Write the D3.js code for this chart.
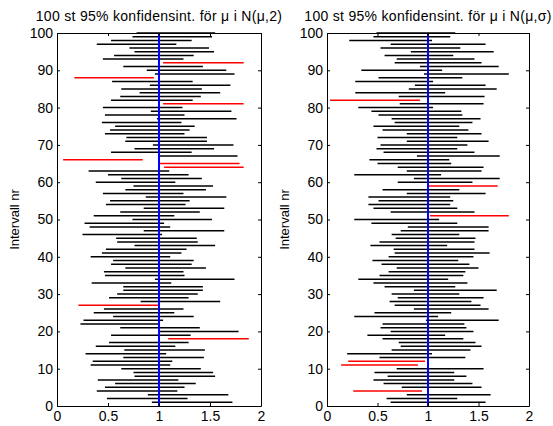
<!DOCTYPE html>
<html lang="en">
<head>
<meta charset="utf-8">
<script src="https://cdnjs.cloudflare.com/ajax/libs/d3/7.8.5/d3.min.js"></script>
<style>
  body { margin: 0; background: #fff; }
  svg text { font-family: "Liberation Sans", Arial, sans-serif; }
</style>
</head>
<body>
<svg id="canvas" width="553" height="426"></svg>
<script>
// interval number 1..100 (index 0 = interval 1)
// left panel: known sigma = 2, constant width
const leftLower = [0.93,0.49,0.89,0.39,0.47,0.57,0.40,0.76,0.75,0.63,
                   0.33,0.35,0.65,0.28,0.66,0.38,0.51,1.09,0.53,0.99,
                   0.62,0.23,0.26,0.55,0.36,0.46,0.21,0.82,0.51,0.59,
                   0.65,0.65,0.34,0.96,0.47,0.46,0.67,0.53,0.55,0.33,
                   0.44,0.48,0.76,0.59,0.58,0.25,0.85,0.32,0.27,0.74,
                   0.36,0.62,0.85,0.48,0.52,0.87,0.45,0.67,0.75,0.38,
                   0.63,0.50,0.31,1.05,1.01,0.06,0.99,0.53,0.76,0.94,
                   0.67,0.68,0.47,0.52,0.57,0.44,0.98,0.47,0.92,0.45,
                   1.04,0.53,0.62,0.81,0.63,0.91,0.54,0.17,0.96,0.88,
                   0.65,1.04,0.45,0.56,0.76,0.71,0.39,0.53,0.74,0.78];
const leftUpper = [1.72,1.28,1.68,1.18,1.25,1.36,1.19,1.55,1.53,1.41,
                   1.11,1.13,1.44,1.07,1.45,1.16,1.29,1.88,1.31,1.78,
                   1.40,1.01,1.04,1.34,1.15,1.24,0.99,1.60,1.29,1.38,
                   1.43,1.43,1.12,1.74,1.25,1.24,1.46,1.32,1.34,1.11,
                   1.22,1.27,1.55,1.38,1.37,1.03,1.64,1.11,1.05,1.52,
                   1.15,1.40,1.64,1.26,1.30,1.66,1.24,1.46,1.53,1.16,
                   1.42,1.29,1.10,1.83,1.79,0.84,1.77,1.32,1.54,1.73,
                   1.47,1.47,1.25,1.30,1.35,1.22,1.76,1.25,1.71,1.23,
                   1.83,1.33,1.41,1.60,1.42,1.70,1.33,0.95,1.74,1.66,
                   1.43,1.83,1.24,1.34,1.54,1.49,1.17,1.32,1.52,1.55];
// right panel: unknown sigma, varying width
const rightLower = [0.63,0.59,0.79,0.26,0.74,0.56,0.46,0.60,0.47,0.69,
                    0.14,0.21,0.52,0.20,0.64,0.73,0.71,0.55,0.40,0.63,
                    0.53,0.55,0.98,0.27,0.47,0.86,0.67,0.62,0.70,0.64,
                    0.86,0.57,0.46,0.31,0.52,0.61,0.69,0.54,0.45,0.61,
                    0.67,0.66,0.43,0.52,0.68,0.64,0.73,0.80,0.44,0.27,
                    1.02,0.63,0.46,0.41,0.51,0.41,0.79,0.55,1.01,0.70,
                    0.86,0.27,0.79,0.70,0.50,0.42,0.89,0.56,0.49,0.53,
                    0.79,0.50,0.79,0.55,0.46,0.67,0.64,0.51,0.44,0.31,
                    0.72,0.03,0.71,0.28,0.81,0.87,0.28,0.51,0.96,0.34,
                    0.92,0.67,0.69,0.57,0.83,0.53,0.63,0.22,0.46,0.49];
const rightUpper = [1.57,1.29,1.62,0.94,1.53,1.44,1.26,1.38,1.26,1.55,
                    0.90,0.97,1.37,1.04,1.42,1.53,1.47,1.35,1.17,1.45,
                    1.38,1.36,1.70,1.10,1.23,1.60,1.52,1.43,1.55,1.31,
                    1.68,1.27,1.39,1.20,1.35,1.37,1.50,1.41,1.30,1.45,
                    1.61,1.46,1.19,1.46,1.47,1.31,1.60,1.60,1.29,1.11,
                    1.80,1.46,1.29,1.22,1.25,1.22,1.57,1.31,1.69,1.44,
                    1.71,1.13,1.53,1.55,1.23,1.21,1.71,1.46,1.29,1.39,
                    1.60,1.29,1.53,1.40,1.31,1.44,1.52,1.34,1.33,1.05,
                    1.55,0.92,1.56,1.17,1.68,1.57,1.05,1.34,1.80,1.14,
                    1.70,1.53,1.46,1.25,1.65,1.32,1.57,1.04,1.22,1.27];
const trueMu = 1;
const xTicks = [0, 0.5, 1, 1.5, 2];
const yTicks = [0, 10, 20, 30, 40, 50, 60, 70, 80, 90, 100];
const titles = ["100 st 95% konfidensint. för \u03bc i N(\u03bc,2)",
                "100 st 95% konfidensint. för \u03bc i N(\u03bc,\u03c3)"];
const yLabel = "Intervall nr";

const svg = d3.select("#canvas");
const panels = [
  {left: 57, right: 261, lower: leftLower, upper: leftUpper, title: titles[0]},
  {left: 327, right: 529, lower: rightLower, upper: rightUpper, title: titles[1]}
];
const plotTop = 33, plotBottom = 406;

panels.forEach(function(p) {
  const x = d3.scaleLinear().domain([0, 2]).range([p.left, p.right]);
  const y = d3.scaleLinear().domain([0, 100]).range([plotBottom, plotTop]);
  const g = svg.append("g");

  const rows = p.lower.map(function(lo, i) {
    return {n: i + 1, lo: lo, hi: p.upper[i]};
  });

  g.selectAll("line.ci")
    .data(rows)
    .join("line")
    .attr("class", "ci")
    .attr("x1", d => x(d.lo))
    .attr("x2", d => x(d.hi))
    .attr("y1", d => y(d.n))
    .attr("y2", d => y(d.n))
    .attr("stroke", d => (d.lo > trueMu || d.hi < trueMu) ? "#ff0000" : "#000")
    .attr("stroke-width", 1.5);

  // true mean
  g.append("line")
    .attr("x1", x(trueMu)).attr("x2", x(trueMu))
    .attr("y1", y(0)).attr("y2", y(100))
    .attr("stroke", "#0000ff").attr("stroke-width", 2);

  // box + inward ticks (matlab style)
  const fmt = d => d3.format("")(d);
  g.append("g").attr("transform", "translate(0," + plotBottom + ")")
    .call(d3.axisBottom(x).tickValues(xTicks).tickFormat(fmt).tickSizeInner(-3).tickSizeOuter(0).tickPadding(5));
  g.append("g").attr("transform", "translate(0," + plotTop + ")")
    .call(d3.axisTop(x).tickValues(xTicks).tickFormat("").tickSizeInner(-3).tickSizeOuter(0));
  g.append("g").attr("transform", "translate(" + p.left + ",0)")
    .call(d3.axisLeft(y).tickValues(yTicks).tickSizeInner(-3).tickSizeOuter(0).tickPadding(4));
  g.append("g").attr("transform", "translate(" + p.right + ",0)")
    .call(d3.axisRight(y).tickValues(yTicks).tickFormat("").tickSizeInner(-3).tickSizeOuter(0));

  g.selectAll(".domain").attr("stroke", "#000");
  g.selectAll(".tick line").attr("stroke", "#000");
  g.selectAll(".tick text").attr("fill", "#000").style("font-size", "14px");

  g.append("text")
    .attr("x", (p.left + p.right) / 2).attr("y", 21)
    .attr("text-anchor", "middle")
    .style("font-size", "14px")
    .style("letter-spacing", "0.3px")
    .text(p.title);

  g.append("text")
    .attr("transform", "translate(" + (p.left - 38) + "," + ((plotTop + plotBottom) / 2) + ") rotate(-90)")
    .attr("text-anchor", "middle")
    .style("font-size", "13px")
    .text(yLabel);
});
</script>
</body>
</html>
